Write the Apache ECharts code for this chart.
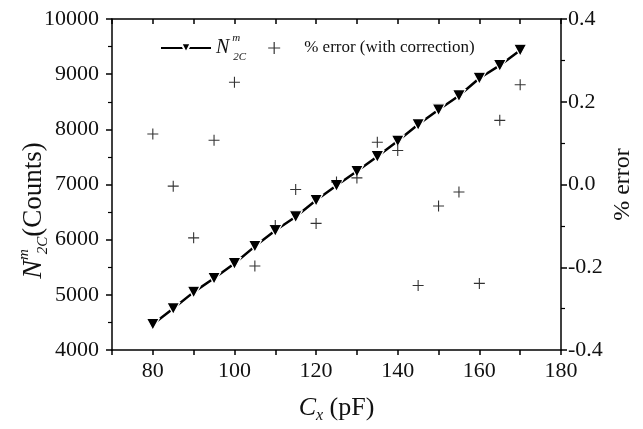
<!DOCTYPE html>
<html>
<head>
<meta charset="utf-8">
<script src="https://cdn.jsdelivr.net/npm/echarts@6/dist/echarts.min.js"></script>
<style>
html,body{margin:0;padding:0;background:#fff;}
#c{width:643px;height:429px;}
</style>
</head>
<body>
<div id="c"></div>
<script>
var capacitance = [80,85,90,95,100,105,110,115,120,125,130,135,140,145,150,155,160,165,170];
var counts = [4465,4751,5049,5299,5568,5879,6165,6416,6713,6981,7239,7507,7787,8086,8354,8610,8927,9159,9433];
var errorPct = [0.122,-0.004,-0.129,0.107,0.247,-0.197,-0.099,-0.012,-0.094,0.006,0.016,0.102,0.082,-0.244,-0.052,-0.018,-0.239,0.155,0.241];
var xTickLabels = [80,100,120,140,160,180];
var xRange = {min:70, max:180, tickStep:10};
var yLeftTicks = {min:4000, max:10000, interval:1000};
var yRightTicks = {min:-0.4, max:0.4, interval:0.2};

var FONT = 'Liberation Serif';
var lineData = capacitance.map(function(x,i){return [x, counts[i]];});
var errData = capacitance.map(function(x,i){return [x, errorPct[i]];});
var plusPath = 'path://M4.5,0h1v10h-1zM0,4.5h10v1h-10z';

var chart = echarts.init(document.getElementById('c'), null, {renderer:'canvas'});
var axisLineStyle = {color:'#000', width:1.5};
chart.setOption({
  animation:false,
  backgroundColor:'#fff',
  grid:{left:112, right:82, top:19, bottom:75, containLabel:false},
  legend:{
    left:155, top:28, itemWidth:50, itemHeight:12, itemGap:22,
    data:['N2C','err'],
    formatter:function(name){
      if(name==='N2C') return '{n|N}{sup|m}{sub|2C}';
      return '{t|% error (with correction)}';
    },
    textStyle:{
      fontFamily:FONT, color:'#111',
      rich:{
        n:{fontFamily:FONT, fontStyle:'italic', fontSize:20, lineHeight:30, color:'#111'},
        sup:{fontFamily:FONT, fontStyle:'italic', fontSize:11, verticalAlign:'top', lineHeight:14, width:1, padding:[0,0,0,3], color:'#111'},
        sub:{fontFamily:FONT, fontStyle:'italic', fontSize:11, verticalAlign:'bottom', lineHeight:14, color:'#111'},
        t:{fontFamily:FONT, fontSize:17, color:'#111', lineHeight:30}
      }
    }
  },
  xAxis:[{
    type:'value', position:'bottom', min:xRange.min, max:xRange.max, interval:xRange.tickStep,
    axisLine:{show:true, onZero:false, lineStyle:axisLineStyle},
    axisTick:{show:true, inside:false, length:5, lineStyle:{color:'#000', width:1.5}},
    splitLine:{show:false},
    axisLabel:{fontFamily:FONT, fontSize:22, color:'#111', margin:10, customValues:xTickLabels},
    name:'{c|C}{s|x}{t| (pF)}', nameLocation:'middle', nameGap:42, nameMoveOverlap:false,
    nameTextStyle:{rich:{
      c:{fontFamily:FONT, fontStyle:'italic', fontSize:26, color:'#111', lineHeight:32},
      s:{fontFamily:FONT, fontStyle:'italic', fontSize:16, color:'#111', verticalAlign:'bottom', lineHeight:14},
      t:{fontFamily:FONT, fontSize:26, color:'#111', lineHeight:32}
    }}
  },{
    type:'value', position:'top', min:xRange.min, max:xRange.max, interval:xRange.tickStep,
    axisLine:{show:true, onZero:false, lineStyle:axisLineStyle},
    axisTick:{show:true, inside:true, length:5, lineStyle:{color:'#000', width:1.5}},
    splitLine:{show:false},
    axisLabel:{show:false}
  }],
  yAxis:[{
    type:'value', position:'left', min:yLeftTicks.min, max:yLeftTicks.max, interval:yLeftTicks.interval,
    axisLine:{show:true, onZero:false, lineStyle:axisLineStyle},
    axisTick:{show:true, inside:false, length:6, lineStyle:{color:'#000', width:1.5}},
    minorTick:{show:true, splitNumber:2, length:4, lineStyle:{color:'#000', width:1.2}},
    splitLine:{show:false},
    axisLabel:{fontFamily:FONT, fontSize:22, color:'#111', margin:13, formatter:function(v){return String(v);}},
    name:'{n|N}{sup|m}{sub|2C}{t|(Counts)}', nameLocation:'middle', nameGap:61, nameRotate:90, nameMoveOverlap:false,
    nameTextStyle:{padding:[0,52,0,0], rich:{
      n:{fontFamily:FONT, fontStyle:'italic', fontSize:28, color:'#111', lineHeight:34},
      sup:{fontFamily:FONT, fontStyle:'italic', fontSize:15, color:'#111', verticalAlign:'top', lineHeight:16, width:1, padding:[0,0,0,5]},
      sub:{fontFamily:FONT, fontStyle:'italic', fontSize:15, color:'#111', verticalAlign:'bottom', lineHeight:16},
      t:{fontFamily:FONT, fontSize:27, color:'#111', lineHeight:34}
    }}
  },{
    type:'value', position:'right', min:yRightTicks.min, max:yRightTicks.max, interval:yRightTicks.interval,
    axisLine:{show:true, onZero:false, lineStyle:axisLineStyle},
    axisTick:{show:true, inside:false, length:6, lineStyle:{color:'#000', width:1.5}},
    minorTick:{show:true, splitNumber:2, length:4, lineStyle:{color:'#000', width:1.2}},
    splitLine:{show:false},
    axisLabel:{fontFamily:FONT, fontSize:22, color:'#111', margin:7, formatter:function(v){return v.toFixed(1);}},
    name:'% error', nameLocation:'middle', nameGap:50, nameRotate:90, nameMoveOverlap:false,
    nameTextStyle:{fontFamily:FONT, fontSize:24, color:'#111'}
  }],
  series:[{
    name:'N2C', type:'line', xAxisIndex:0, yAxisIndex:0, data:lineData,
    symbol:'triangle', symbolRotate:180, symbolSize:[13,12],
    lineStyle:{color:'#000', width:2.5},
    itemStyle:{color:'#000', borderColor:'#fff', borderWidth:1.2},
    z:2
  },{
    name:'err', type:'scatter', xAxisIndex:0, yAxisIndex:1, data:errData,
    symbol:plusPath, symbolSize:11,
    itemStyle:{color:'#000'},
    z:3
  }]
});
</script>
</body>
</html>
